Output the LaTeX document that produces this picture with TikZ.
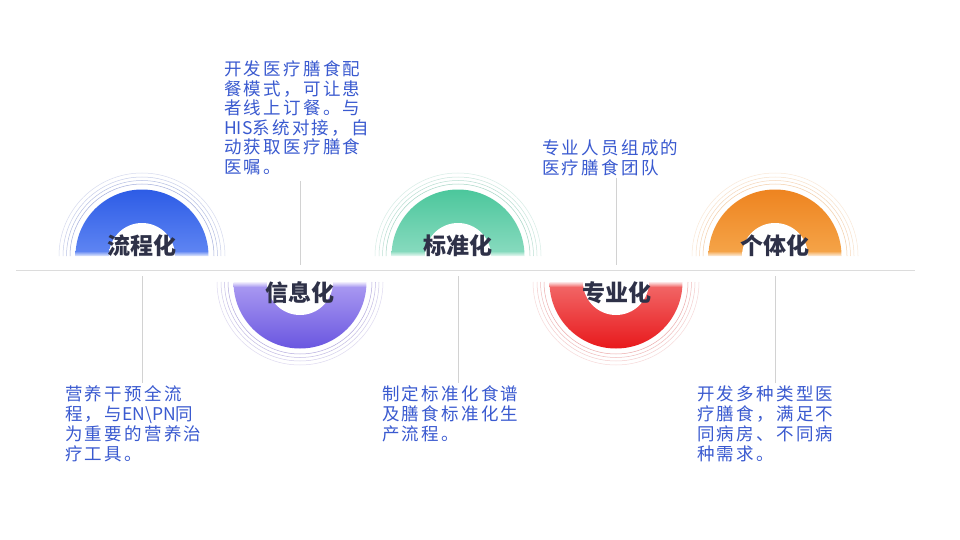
\documentclass[tikz,border=0pt]{standalone}
\usepackage{fontspec}
\setmainfont{Noto Sans CJK SC}
\newfontfamily\descfont{Noto Sans CJK SC}[LetterSpace=13]
\newfontfamily\latinfont{Noto Sans CJK SC}
\usetikzlibrary{fadings}

\definecolor{descblue}{HTML}{3A5AD0}
\definecolor{titlecol}{HTML}{2E3148}
\definecolor{axiscol}{HTML}{DCDCDC}
\definecolor{tickcol}{HTML}{D2D2D2}
\definecolor{blueA}{HTML}{2D5CE6}
\definecolor{blueB}{HTML}{6187F3}
\definecolor{purpA}{HTML}{AC9CF2}
\definecolor{purpB}{HTML}{6A56E0}
\definecolor{greenA}{HTML}{4CC79C}
\definecolor{greenB}{HTML}{8ADBC0}
\definecolor{redA}{HTML}{F26A6A}
\definecolor{redB}{HTML}{E8191C}
\definecolor{oranA}{HTML}{EE8420}
\definecolor{oranB}{HTML}{F5A54A}
\definecolor{arcBlue}{HTML}{9AA6D8}
\definecolor{arcPurp}{HTML}{ACA2DA}
\definecolor{arcGreen}{HTML}{9CD2C0}
\definecolor{arcRed}{HTML}{EAA2A2}
\definecolor{arcOran}{HTML}{F2C89E}
\colorlet{holec}{white}

\pgfdeclareradialshading[holec]{holeglow}{\pgfpointorigin}{color(0bp)=(white); color(36bp)=(white); color(50bp)=(holec)}
\tikzfading[name=fadedown, top color=transparent!100, bottom color=transparent!0]
\tikzfading[name=fadeup, top color=transparent!0, bottom color=transparent!100]

\newcommand\lat[1]{{\latinfont #1}}

\tikzset{
  desc/.style={font=\descfont\fontsize{17.5}{19.8}\selectfont, text=descblue, inner sep=0pt, anchor=base west},
  ringlabel/.style={font=\bfseries\fontsize{23}{26}\selectfont, text=titlecol, inner sep=0pt},
  axisline/.style={draw=axiscol, line width=1pt},
  tickline/.style={draw=tickcol, line width=0.7pt},
  thinarc/.style={line width=0.5pt}
}

% #1 cx, #2 cy, #3 top color, #4 bottom color, #5 arc color, #6 hole color
\newcommand\upring[6]{%
  \begin{scope}[shift={(#1,#2)}]
    \shade[top color=#3, bottom color=#4] (-66.5,0) arc[start angle=180,end angle=360,radius=66.5] -- (32,0) arc[start angle=360,end angle=180,radius=32] -- cycle;
    \colorlet{holec}{#6}
    \begin{scope}
      \clip (-34,0) rectangle (34,-34);
      \shade[shading=holeglow] (0,0) circle[radius=33];
    \end{scope}
    \fill[white, path fading=fadedown] (-68,-5) rectangle (68,1);
    \draw[thinarc, #5!90] (-72,0) arc[start angle=180,end angle=360,radius=72];
    \draw[thinarc, #5!70] (-75.5,0) arc[start angle=180,end angle=360,radius=75.5];
    \draw[thinarc, #5!55] (-79,0) arc[start angle=180,end angle=360,radius=79];
    \draw[thinarc, #5!40] (-83,0) arc[start angle=180,end angle=360,radius=83];
  \end{scope}}
\newcommand\downring[6]{%
  \begin{scope}[shift={(#1,#2)}]
    \shade[top color=#3, bottom color=#4] (-66.5,0) arc[start angle=180,end angle=0,radius=66.5] -- (32,0) arc[start angle=0,end angle=180,radius=32] -- cycle;
    \colorlet{holec}{#6}
    \begin{scope}
      \clip (-34,0) rectangle (34,34);
      \shade[shading=holeglow] (0,0) circle[radius=33];
    \end{scope}
    \fill[white, path fading=fadeup] (-68,-1) rectangle (68,5);
    \draw[thinarc, #5!90] (-72,0) arc[start angle=180,end angle=0,radius=72];
    \draw[thinarc, #5!70] (-75.5,0) arc[start angle=180,end angle=0,radius=75.5];
    \draw[thinarc, #5!55] (-79,0) arc[start angle=180,end angle=0,radius=79];
    \draw[thinarc, #5!40] (-83,0) arc[start angle=180,end angle=0,radius=83];
  \end{scope}}

\begin{document}
\begin{tikzpicture}[x=1pt,y=-1pt]
  \useasboundingbox[fill=white] (0,0) rectangle (960,540);

  % rings
  \upring{142}{256}{blueA}{blueB}{arcBlue}{blueB!40!white}
  \downring{300}{282}{purpA}{purpB}{arcPurp}{purpA!45!white}
  \upring{458}{256}{greenA}{greenB}{arcGreen}{greenB!45!white}
  \downring{616}{282}{redA}{redB}{arcRed}{redA!40!white}
  \upring{775}{256}{oranA}{oranB}{arcOran}{oranB!45!white}

  % axis
  \coordinate (axL) at (16,270);
  \coordinate (axR) at (915,270);
  \draw[axisline] (axL) -- (axR);

  % ticks
  \coordinate (k1a) at (142,276); \coordinate (k1b) at (142,383);
  \coordinate (k2a) at (300,181); \coordinate (k2b) at (300,265);
  \coordinate (k3a) at (458,276); \coordinate (k3b) at (458,383);
  \coordinate (k4a) at (616,178); \coordinate (k4b) at (616,265);
  \coordinate (k5a) at (775,276); \coordinate (k5b) at (775,383);
  \draw[tickline] (k1a) -- (k1b);
  \draw[tickline] (k2a) -- (k2b);
  \draw[tickline] (k3a) -- (k3b);
  \draw[tickline] (k4a) -- (k4b);
  \draw[tickline] (k5a) -- (k5b);

  % ring labels
  \node[ringlabel] (r1) at (142,246) {流程化};
  \node[ringlabel] (r2) at (300,293) {信息化};
  \node[ringlabel] (r3) at (458,246) {标准化};
  \node[ringlabel] (r4) at (617,293) {专业化};
  \node[ringlabel] (r5) at (775,246) {个体化};

  % descriptions
  \foreach \t [count=\i] in {开发医疗膳食配,餐模式，可让患,者线上订餐。与,\lat{HIS}系统对接，自,动获取医疗膳食,医嘱。}
    \node[desc] (da\i) at (224,{75.5+19.6*(\i-1)}) {\t};
  \foreach \t [count=\i] in {营养干预全流,程，与\lat{EN\textbackslash PN}同,为重要的营养治,疗工具。}
    \node[desc] (db\i) at (65,{400.5+20*(\i-1)}) {\t};
  \foreach \t [count=\i] in {制定标准化食谱,及膳食标准化生,产流程。}
    \node[desc] (dc\i) at (382,{400.5+20*(\i-1)}) {\t};
  \foreach \t [count=\i] in {专业人员组成的,医疗膳食团队}
    \node[desc] (dd\i) at (542,{154.5+19.6*(\i-1)}) {\t};
  \foreach \t [count=\i] in {开发多种类型医,疗膳食，满足不,同病房、不同病,种需求。}
    \node[desc] (de\i) at (697,{400.5+20*(\i-1)}) {\t};
\end{tikzpicture}
\end{document}
